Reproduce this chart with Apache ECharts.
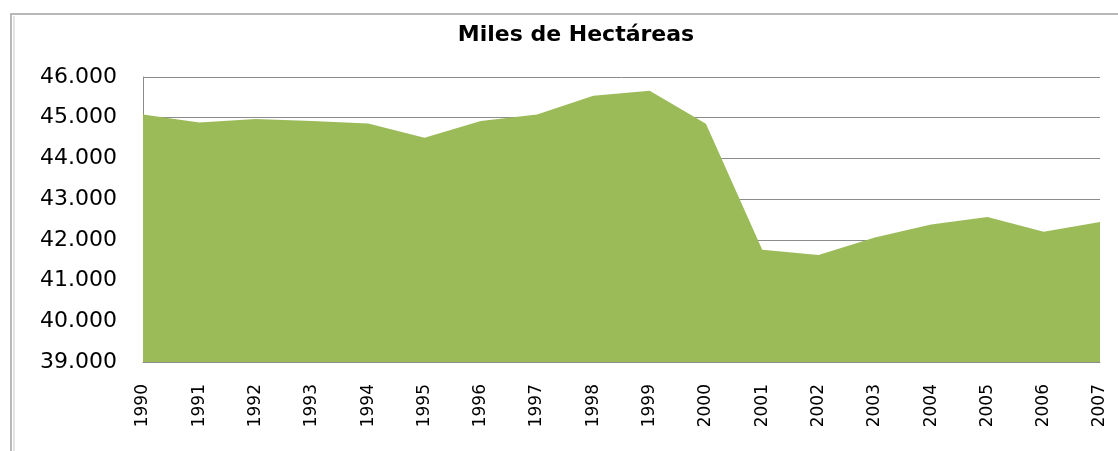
<!DOCTYPE html>
<html><head><meta charset="utf-8">
<script src="https://cdn.jsdelivr.net/npm/echarts@6/dist/echarts.min.js"></script>
<style>html,body{margin:0;padding:0;background:#fff}#c{width:1118px;height:451px}</style>
</head><body><div id="c"></div>
<script>
const years = ['1990','1991','1992','1993','1994','1995','1996','1997','1998','1999','2000','2001','2002','2003','2004','2005','2006','2007'];
const hectares = [45080,44880,44970,44920,44860,44510,44920,45080,45540,45660,44850,41760,41630,42060,42380,42560,42200,42440];
const titleText = 'Miles de Hectáreas';

const chart = echarts.init(document.getElementById('c'), null, {renderer:'canvas'});
chart.setOption({
  animation:false,
  backgroundColor:'#fff',
  title:{text:titleText,left:571,textAlign:'center',top:19,
    textStyle:{fontFamily:'DejaVu Sans',fontWeight:'bold',fontSize:22,color:'#000'}},
  graphic:[
    {type:'rect',shape:{x:11,y:14,width:1130,height:460},style:{fill:'none',stroke:'#b8b8b8',lineWidth:2},silent:true},
    {type:'line',shape:{x1:14,y1:16,x2:14,y2:460},style:{stroke:'#c8c8c8',lineWidth:1},silent:true}
  ],
  grid:{left:143,right:18,top:77,bottom:89},
  xAxis:{type:'category',data:years,boundaryGap:false,
    axisLine:{show:true,lineStyle:{color:'#8c8c8c'}},
    axisTick:{show:false},
    axisLabel:{rotate:90,fontFamily:'DejaVu Sans',fontSize:17,color:'#000',margin:22,interval:0},
    splitLine:{show:false}},
  yAxis:{type:'value',min:39000,max:46000,interval:1000,
    axisLine:{show:true,lineStyle:{color:'#8c8c8c'}},axisTick:{show:false},
    axisLabel:{fontFamily:'DejaVu Sans',fontSize:22,color:'#000',margin:26,
      formatter:v=>(v/1000).toFixed(0)+'.000'},
    splitLine:{show:true,lineStyle:{color:'#8c8c8c',width:1}}},
  series:[{type:'line',data:hectares,symbol:'none',
    lineStyle:{width:0,color:'#9BBB59'},
    areaStyle:{color:'#9BBB59',opacity:1}}]
});
</script></body></html>
